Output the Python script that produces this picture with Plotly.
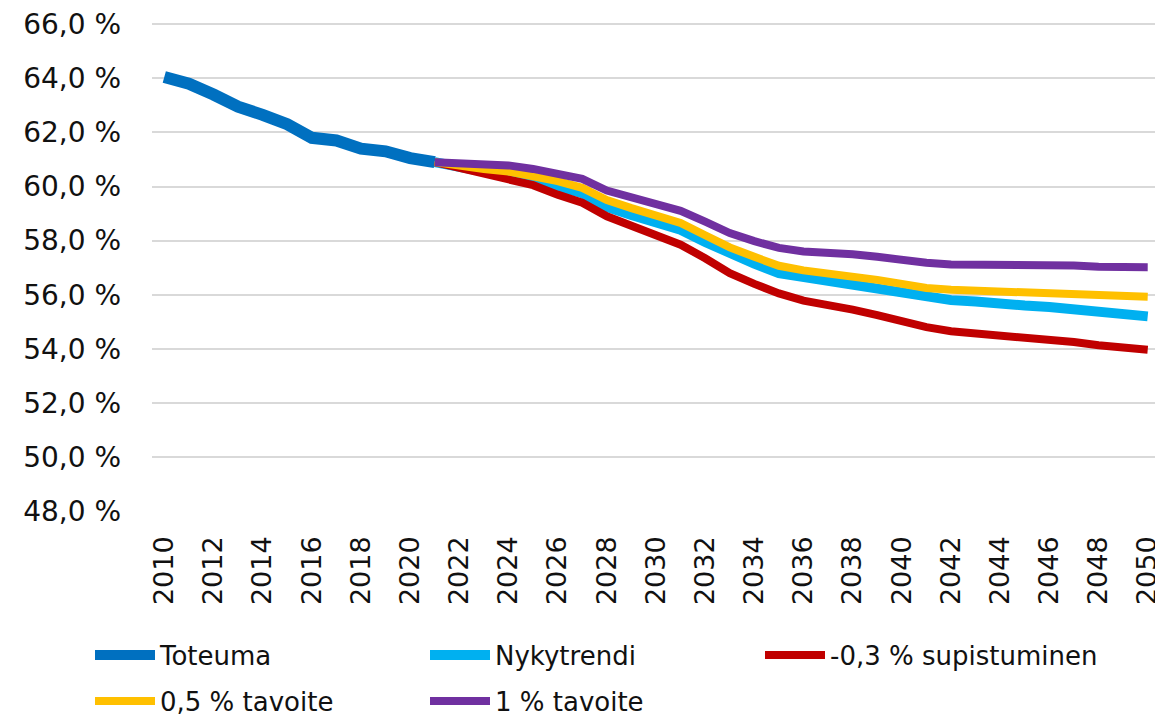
import plotly.graph_objects as go

# toteuma 2010-2021, skenaariot 2021-2050
years_hist = list(range(2010, 2022))
toteuma = [64.05, 63.8, 63.4, 62.95, 62.65, 62.3, 61.8, 61.7, 61.4, 61.3, 61.05, 60.9]

years_scen = list(range(2021, 2051))
nykytrendi = [60.9, 60.7, 60.55, 60.45, 60.25, 60.0, 59.75, 59.25, 58.95, 58.65,
              58.4, 57.95, 57.5, 57.15, 56.8, 56.65, 56.55, 56.4, 56.25, 56.05,
              55.9, 55.8, 55.75, 55.65, 55.6, 55.55, 55.45, 55.35, 55.28, 55.2]
supistuminen = [60.9, 60.7, 60.45, 60.3, 60.05, 59.7, 59.4, 58.9, 58.55, 58.15,
                57.85, 57.35, 56.8, 56.4, 56.05, 55.78, 55.65, 55.45, 55.25, 55.02,
                54.8, 54.65, 54.58, 54.45, 54.4, 54.33, 54.25, 54.13, 54.05, 53.97]
tavoite_05 = [60.9, 60.75, 60.65, 60.55, 60.4, 60.2, 59.95, 59.5, 59.2, 58.9,
              58.65, 58.2, 57.75, 57.4, 57.07, 56.9, 56.8, 56.7, 56.55, 56.4,
              56.25, 56.18, 56.15, 56.1, 56.1, 56.08, 56.05, 55.98, 55.95, 55.93]
tavoite_1 = [60.9, 60.85, 60.8, 60.78, 60.65, 60.5, 60.28, 59.85, 59.6, 59.3,
             59.1, 58.7, 58.28, 57.98, 57.73, 57.6, 57.57, 57.5, 57.4, 57.28,
             57.18, 57.12, 57.12, 57.12, 57.12, 57.13, 57.08, 57.03, 57.03, 57.02]

FONT = "DejaVu Sans"
OFF = 8  # sivun oletusmarginaali
W, H = 1163 - OFF, 716 - OFF

series = [
    ('Toteuma', years_hist, toteuma, '#0070C0', 12, 'legend'),
    ('Nykytrendi', years_scen, nykytrendi, '#00B0F0', 10, 'legend2'),
    ('-0,3 % supistuminen', years_scen, supistuminen, '#C00000', 8, 'legend3'),
    ('0,5 % tavoite', years_scen, tavoite_05, '#FFC000', 8, 'legend4'),
    ('1 % tavoite', years_scen, tavoite_1, '#7030A0', 8, 'legend5'),
]

fig = go.Figure()
for name, xs, ys, color, width, leg in series:
    fig.add_trace(go.Scatter(x=xs, y=ys, mode='lines', name=name,
                             line=dict(color=color, width=width), legend=leg))


def legend_at(px, py):
    # px = viivan vasen reuna, py = rivin keskikohta (sivun pikseleinä)
    return dict(orientation='h', xref='container', yref='container',
                x=(px - OFF - 7) / W, y=1 - (py - OFF) / H,
                xanchor='left', yanchor='middle', itemwidth=60,
                font=dict(family=FONT, size=26, color='#111111'),
                bgcolor='rgba(0,0,0,0)')


fig.update_layout(
    width=W, height=H,
    margin=dict(l=152 - OFF, r=3, t=14, b=204),
    paper_bgcolor='white', plot_bgcolor='white',
    separators=', ',
    font=dict(family=FONT, size=26, color='#111111'),
    xaxis=dict(range=[2009.5, 2050.5], tickmode='linear', tick0=2010, dtick=2,
               tickangle=-90, showgrid=False, zeroline=False, showline=False,
               ticks='', ticklabelstandoff=18, automargin=False,
               ticklabeloverflow='allow',
               tickfont=dict(family=FONT, size=27, color='#111111')),
    yaxis=dict(range=[47.97, 66.08], tickmode='linear', tick0=48, dtick=2,
               tickformat='.1f', ticksuffix=' %',
               showgrid=True, gridcolor='#D9D9D9', gridwidth=2,
               zeroline=False, showline=False, ticks='', ticklabelstandoff=30,
               automargin=False, ticklabeloverflow='allow',
               tickfont=dict(family=FONT, size=28, color='#111111')),
    legend=legend_at(97, 655),
    legend2=legend_at(432, 655),
    legend3=legend_at(767, 655),
    legend4=legend_at(97, 701),
    legend5=legend_at(432, 701),
    showlegend=True,
)

fig.write_html("out.html")
